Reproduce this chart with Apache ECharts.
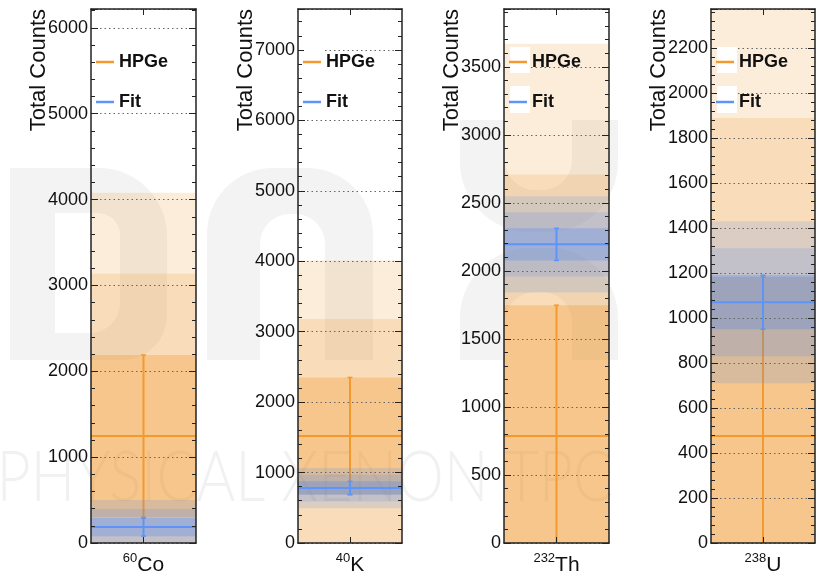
<!DOCTYPE html>
<html><head><meta charset="utf-8">
<script src="https://cdn.jsdelivr.net/npm/echarts@6/dist/echarts.min.js"></script>
<style>html,body{margin:0;padding:0;background:#fff}#c{width:818px;height:579px}</style>
</head><body><div id="c"></div>
<script>
// ---- data ----
const isoMass = ['60', '40', '232', '238'];
const isoElem = ['Co', 'K', 'Th', 'U'];
const hpgeMean = [1245, 1520, 787, 476];
const hpgeSigma = [945, 830, 961, 707];
const fitMean = [185, 780, 2195, 1071];
const fitSigma = [105, 95, 118, 120];
const yMax = [6220, 7580, 3925, 2375];
const yStep = [1000, 1000, 500, 200];
const legendNames = ['HPGe', 'Fit'];
const yTitle = 'Total Counts';

// ---- layout / style ----
const gridLeft = [91, 298, 504, 711];
const gridWidth = [105, 104, 105, 104];
const TOP = 9, HEIGHT = 534;
const FONT = 'Liberation Sans';
const orangeLine = '#f29a2e', blueLine = '#5d94f7';
const orangeRGB = '240,150,40', blueRGB = '70,130,240';
const orangeAlpha = [0.17, 0.18, 0.31];
const blueAlpha = [0.17, 0.17, 0.27];

function makeRender(rgb, alphas, lineColor) {
  return function (params, api) {
    const cs = params.coordSys;
    const m = api.value(1), s = api.value(2);
    const yTop = cs.y, yBot = cs.y + cs.height;
    const clampY = v => Math.max(yTop, Math.min(yBot, v));
    const children = [];
    [3, 2, 1].forEach((k, i) => {
      const y1 = clampY(api.coord([0, m + k * s])[1]);
      const y2 = clampY(api.coord([0, m - k * s])[1]);
      children.push({ type: 'rect', shape: { x: cs.x, y: y1, width: cs.width, height: y2 - y1 },
        style: { fill: 'rgba(' + rgb + ',' + alphas[i] + ')' } });
    });
    const c = api.coord([0, m]);
    const cx = c[0];
    children.push({ type: 'line', shape: { x1: cs.x, y1: c[1], x2: cs.x + cs.width, y2: c[1] },
      style: { stroke: lineColor, lineWidth: 2 } });
    const upRaw = api.coord([0, m + s])[1], loRaw = api.coord([0, m - s])[1];
    const up = clampY(upRaw), lo = clampY(loRaw);
    children.push({ type: 'line', shape: { x1: cx, y1: up, x2: cx, y2: lo },
      style: { stroke: lineColor, lineWidth: 2 } });
    [upRaw, loRaw].forEach(yv => {
      if (yv > yTop && yv < yBot) {
        children.push({ type: 'line', shape: { x1: cx - 2.5, y1: yv, x2: cx + 2.5, y2: yv },
          style: { stroke: lineColor, lineWidth: 1.5 } });
      }
    });
    return { type: 'group', children };
  };
}

const grids = [], xAxes = [], yAxes = [], series = [], legends = [], graphics = [];
const axisColor = '#222';

// watermark (decoration)
const wm = '#f3f3f3';
graphics.push(
  { type: 'rect', z: 0, shape: { x: 10, y: 168, width: 157, height: 192, r: [0, 68, 45, 0] }, style: { fill: wm } },
  { type: 'rect', z: 0, shape: { x: 55, y: 213, width: 65, height: 120, r: [0, 22, 30, 0] }, style: { fill: '#fff' } },
  { type: 'rect', z: 0, shape: { x: 207, y: 168, width: 166, height: 192, r: [66, 66, 0, 0] }, style: { fill: wm } },
  { type: 'rect', z: 0, shape: { x: 260, y: 214, width: 65, height: 146, r: [30, 30, 0, 0] }, style: { fill: '#fff' } },
  { type: 'rect', z: 0, shape: { x: 460, y: 120, width: 158, height: 112, r: [0, 0, 70, 70] }, style: { fill: wm } },
  { type: 'rect', z: 0, shape: { x: 505, y: 120, width: 67, height: 70, r: [0, 0, 30, 30] }, style: { fill: '#fff' } },
  { type: 'rect', z: 0, shape: { x: 460, y: 248, width: 158, height: 112, r: [70, 70, 0, 0] }, style: { fill: wm } },
  { type: 'rect', z: 0, shape: { x: 505, y: 292, width: 67, height: 68, r: [30, 30, 0, 0] }, style: { fill: '#fff' } },
  { type: 'text', z: 0, x: 613, y: 443, scaleX: 0.845,
    style: { text: 'PHYSICAL XENON TPC', fill: '#f1f1f1', font: '300 70px Lato', align: 'right', verticalAlign: 'alphabetic' } }
);

for (let i = 0; i < 4; i++) {
  grids.push({ left: gridLeft[i], top: TOP, width: gridWidth[i], height: HEIGHT, containLabel: false, outerBoundsMode: 'none' });
  const cat = [isoMass[i] + isoElem[i]];
  const mass = isoMass[i], elem = isoElem[i];
  xAxes.push({
    gridIndex: i, type: 'category', data: cat, position: 'bottom', z: 3,
    axisLine: { show: true, onZero: false, lineStyle: { color: axisColor, width: 1.5 } },
    axisTick: { show: true, inside: true, alignWithLabel: true, length: 6, lineStyle: { color: axisColor } },
    axisLabel: {
      margin: 9, interval: 0,
      formatter: () => '{s|' + mass + '}{e|' + elem + '}',
      rich: {
        s: { fontFamily: FONT, fontSize: 13, color: '#111', lineHeight: 13, verticalAlign: 'top' },
        e: { fontFamily: FONT, fontSize: 21, color: '#111', lineHeight: 24, verticalAlign: 'bottom' }
      }
    },
    splitLine: { show: false }
  });
  xAxes.push({
    gridIndex: i, type: 'category', data: cat, position: 'top', z: 3,
    axisLine: { show: true, onZero: false, lineStyle: { color: axisColor, width: 1.5 } },
    axisTick: { show: true, inside: true, alignWithLabel: true, length: 6, lineStyle: { color: axisColor } },
    axisLabel: { show: false }, splitLine: { show: false }
  });
  yAxes.push({
    gridIndex: i, type: 'value', min: 0, max: yMax[i], interval: yStep[i], position: 'left', z: 3,
    axisLine: { show: true, lineStyle: { color: axisColor, width: 1.5 } },
    axisTick: { show: true, inside: true, length: 7, lineStyle: { color: axisColor } },
    minorTick: { show: true, splitNumber: 5, length: 4, lineStyle: { color: axisColor } },
    splitLine: { show: true, lineStyle: { type: [1.5, 3], color: '#666', width: 1 } },
    axisLabel: { fontFamily: FONT, fontSize: 18, color: '#111', margin: 3, showMaxLabel: false,
      formatter: v => String(v) },
    name: yTitle, nameLocation: 'end', nameRotate: 90, nameGap: 0, nameMoveOverlap: false,
    nameTextStyle: { fontFamily: FONT, fontSize: 22, color: '#111', align: 'right', verticalAlign: 'bottom', padding: [0, 0, 41, 0] }
  });
  yAxes.push({
    gridIndex: i, type: 'value', min: 0, max: yMax[i], interval: yStep[i], position: 'right', z: 3,
    axisLine: { show: true, lineStyle: { color: axisColor, width: 1.5 } },
    axisTick: { show: true, inside: true, length: 7, lineStyle: { color: axisColor } },
    minorTick: { show: true, splitNumber: 5, length: 4, lineStyle: { color: axisColor } },
    splitLine: { show: false }, axisLabel: { show: false }
  });
  series.push({
    type: 'custom', name: legendNames[0], xAxisIndex: 2 * i, yAxisIndex: 2 * i, z: 2,
    data: [[0, hpgeMean[i], hpgeSigma[i]]], encode: { x: 0, y: 1 },
    itemStyle: { color: orangeLine },
    renderItem: makeRender(orangeRGB, orangeAlpha, orangeLine)
  });
  series.push({
    type: 'custom', name: legendNames[1], xAxisIndex: 2 * i, yAxisIndex: 2 * i, z: 2,
    data: [[0, fitMean[i], fitSigma[i]]], encode: { x: 0, y: 1 },
    itemStyle: { color: blueLine },
    renderItem: makeRender(blueRGB, blueAlpha, blueLine)
  });
  legends.push({
    left: gridLeft[i] + 5, top: 53, orient: 'vertical', itemGap: 22, itemWidth: 18, itemHeight: 2.5,
    icon: 'rect', data: legendNames, padding: 0, z: 10, selectedMode: false,
    textStyle: { fontFamily: FONT, fontWeight: 'bold', fontSize: 18, color: '#111' }
  });
  graphics.push(
    { type: 'rect', z: 8, shape: { x: gridLeft[i] + 6, y: 47, width: 20, height: 26 }, style: { fill: '#fff' } },
    { type: 'rect', z: 8, shape: { x: gridLeft[i] + 6, y: 86, width: 20, height: 27 }, style: { fill: '#fff' } }
  );
}

const chart = echarts.init(document.getElementById('c'), null, { renderer: 'canvas' });
chart.setOption({
  animation: false,
  backgroundColor: '#fff',
  grid: grids, xAxis: xAxes, yAxis: yAxes, series: series, legend: legends,
  graphic: { elements: graphics }
});
</script></body></html>
